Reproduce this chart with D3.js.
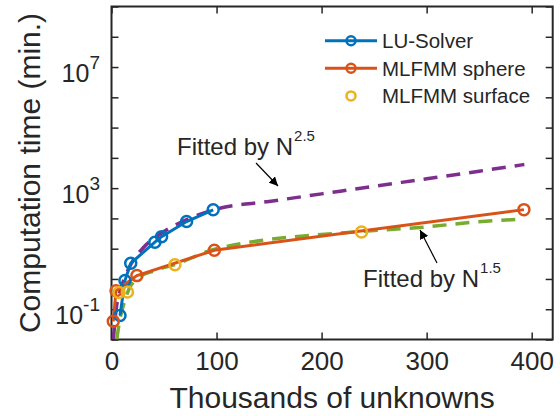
<!DOCTYPE html>
<html>
<head>
<meta charset="utf-8">
<script src="https://cdn.jsdelivr.net/npm/d3@7"></script>
<style>
  body { margin: 0; background: #fff; }
  text { font-family: "Liberation Sans", Arial, sans-serif; fill: #262626; }
</style>
</head>
<body>
<svg id="chart" width="560" height="416"></svg>
<script>
// DATA (x in thousands of unknowns, time in minutes)
const luX = [8.1, 12.8, 18.3, 41.3, 47.7, 71.5, 96.8];
const luT = [0.062, 0.89, 3.3, 16.4, 25, 79, 193];

const sphereX = [1.7, 4.3, 24.2, 97.9, 392.6];
const sphereT = [0.04, 0.41, 1.29, 8.9, 195];

const surfaceX = [7.1, 15.2, 60.4, 238];
const surfaceT = [0.355, 0.37, 2.95, 35.5];

const fit25X = [1.9, 3, 4.9, 8, 12.8, 20, 30, 50, 75, 100, 150, 200, 250, 300, 350, 393];
const fit25T = [0.0105, 0.033, 0.13, 0.38, 1.15, 3.8, 10.5, 37, 102, 204, 363, 646, 1150, 2040, 3630, 6030];

const fit15X = [5, 8.1, 11.2, 17.6, 24, 41.4, 60.4, 100, 238, 293, 347, 391];
const fit15T = [0.01, 0.049, 0.13, 0.54, 1.0, 1.9, 3.0, 10, 37, 50, 76, 95];

const xTicks = [0, 100, 200, 300, 400];
const yLabelExps = [-1, 3, 7];
const yMinorExps = [-2, -1, 0, 1, 2, 3, 4, 5, 6, 7, 8, 9];

const legendNames = ["LU-Solver", "MLFMM sphere", "MLFMM surface"];
const colors = {
  lu: "#0072BD",
  sphere: "#D95319",
  surface: "#EDB120",
  fit25: "#7E2F8E",
  fit15: "#77AC30",
};

// CANVAS SETUP
const svg = d3.select("#chart");
const margin = { top: 6.5, right: 7.3, bottom: 76.5, left: 111.5 },
  width = 560 - margin.left - margin.right,
  height = 416 - margin.top - margin.bottom;

const x = d3.scaleLinear().domain([0, 420]).range([0, width]);
const y = d3.scaleLog().domain([1e-2, 1e9]).range([height, 0]);

const g = svg.append("g").attr("transform", `translate(${margin.left},${margin.top})`);

g.append("defs")
  .append("clipPath")
  .attr("id", "plotClip")
  .append("rect")
  .attr("width", width)
  .attr("height", height);

svg.append("defs")
  .append("marker")
  .attr("id", "arrowHead")
  .attr("viewBox", "0 0 10 10")
  .attr("refX", 10)
  .attr("refY", 5)
  .attr("markerWidth", 9)
  .attr("markerHeight", 9)
  .attr("markerUnits", "userSpaceOnUse")
  .attr("orient", "auto")
  .append("path")
  .attr("d", "M0,0 L10,5 L0,10 Z")
  .attr("fill", "#000");

const zip = (xs, ts) => xs.map((v, i) => ({ x: v, t: ts[i] }));
const lu = zip(luX, luT),
  sphere = zip(sphereX, sphereT),
  surface = zip(surfaceX, surfaceT),
  fit25 = zip(fit25X, fit25T),
  fit15 = zip(fit15X, fit15T);

const line = d3.line().x((d) => x(d.x)).y((d) => y(d.t));
const smooth = d3.line().x((d) => x(d.x)).y((d) => y(d.t)).curve(d3.curveMonotoneX);

// AXES
const tickLen = 7;
const axisColor = "#262626";

const gAxes = g.append("g");
gAxes.append("g")
  .attr("transform", `translate(0,${height})`)
  .call(d3.axisBottom(x).tickValues(xTicks).tickSize(-tickLen).tickFormat(d3.format("d")).tickPadding(12))
  .call((a) => a.select(".domain").remove())
  .call((a) => a.selectAll("line").attr("stroke", axisColor).attr("stroke-width", 1.5))
  .call((a) => a.selectAll("text").attr("font-size", 26).attr("fill", axisColor).attr("dy", "0.72em"));

gAxes.append("g")
  .call(d3.axisTop(x).tickValues(xTicks).tickSize(-tickLen).tickFormat(""))
  .call((a) => a.select(".domain").remove())
  .call((a) => a.selectAll("line").attr("stroke", axisColor).attr("stroke-width", 1.5));

const yTickVals = yMinorExps.map((e) => Math.pow(10, e));
gAxes.append("g")
  .call(d3.axisLeft(y).tickValues(yTickVals).tickSize(-tickLen).tickFormat(""))
  .call((a) => a.select(".domain").remove())
  .call((a) => a.selectAll("line").attr("stroke", axisColor).attr("stroke-width", 1.5));

gAxes.append("g")
  .attr("transform", `translate(${width},0)`)
  .call(d3.axisRight(y).tickValues(yTickVals).tickSize(-tickLen).tickFormat(""))
  .call((a) => a.select(".domain").remove())
  .call((a) => a.selectAll("line").attr("stroke", axisColor).attr("stroke-width", 1.5));

// y tick labels as 10^n
const yLab = g.append("g").selectAll("text")
  .data(yLabelExps)
  .join("text")
  .attr("x", -11.5)
  .attr("y", (d) => y(Math.pow(10, d)) + 14.5)
  .attr("text-anchor", "end")
  .attr("font-size", 25);
yLab.append("tspan").text("10");
yLab.append("tspan")
  .attr("dy", -13)
  .attr("font-size", 19)
  .text((d) => (d < 0 ? "-" + Math.abs(d) : d));

// plot box
g.append("rect")
  .attr("width", width)
  .attr("height", height)
  .attr("fill", "none")
  .attr("stroke", axisColor)
  .attr("stroke-width", 2);

// axis titles
svg.append("text")
  .attr("x", margin.left + width / 2)
  .attr("y", 408)
  .attr("text-anchor", "middle")
  .attr("font-size", 30)
  .text("Thousands of unknowns");

svg.append("text")
  .attr("transform", `translate(40,${margin.top + height / 2}) rotate(-90)`)
  .attr("text-anchor", "middle")
  .attr("font-size", 30)
  .text("Computation time (min.)");

// RENDER DATA
const plot = g.append("g").attr("clip-path", "url(#plotClip)");

plot.append("path")
  .datum(fit25)
  .attr("d", smooth)
  .attr("fill", "none")
  .attr("stroke", colors.fit25)
  .attr("stroke-width", 3.5)
  .attr("stroke-dasharray", "14,9");

plot.append("path")
  .datum(fit15)
  .attr("d", smooth)
  .attr("fill", "none")
  .attr("stroke", colors.fit15)
  .attr("stroke-width", 3.5)
  .attr("stroke-dasharray", "14,9");

plot.append("path")
  .datum(lu)
  .attr("d", line)
  .attr("fill", "none")
  .attr("stroke", colors.lu)
  .attr("stroke-width", 3);

plot.append("path")
  .datum(sphere)
  .attr("d", line)
  .attr("fill", "none")
  .attr("stroke", colors.sphere)
  .attr("stroke-width", 3);

const drawMarkers = (data, color) =>
  g.append("g")
    .selectAll("circle")
    .data(data)
    .join("circle")
    .attr("cx", (d) => x(d.x))
    .attr("cy", (d) => y(d.t))
    .attr("r", 5.5)
    .attr("fill", "none")
    .attr("stroke", color)
    .attr("stroke-width", 2.5);

drawMarkers(lu, colors.lu);
drawMarkers(sphere, colors.sphere);
drawMarkers(surface, colors.surface);

// LEGEND
const legendRows = [
  { name: legendNames[0], color: colors.lu, line: true },
  { name: legendNames[1], color: colors.sphere, line: true },
  { name: legendNames[2], color: colors.surface, line: false },
];
const legend = svg.append("g")
  .selectAll("g")
  .data(legendRows)
  .join("g")
  .attr("transform", (d, i) => `translate(0,${40.7 + i * 27.6})`);

legend.filter((d) => d.line)
  .append("line")
  .attr("x1", 325).attr("x2", 377)
  .attr("stroke", (d) => d.color)
  .attr("stroke-width", 3);
legend.append("circle")
  .attr("cx", 351)
  .attr("r", 4.5)
  .attr("fill", "none")
  .attr("stroke", (d) => d.color)
  .attr("stroke-width", 2.5);
legend.append("text")
  .attr("x", 382)
  .attr("dy", "0.36em")
  .attr("font-size", 20.5)
  .text((d) => d.name);

// ANNOTATIONS
const notes = [
  { x: 177, y: 155, exp: "2.5", from: [256, 163], to: [278, 186] },
  { x: 363, y: 287, exp: "1.5", from: [437, 263], to: [420, 230] },
];
notes.forEach((n) => {
  const t = svg.append("text").attr("x", n.x).attr("y", n.y).attr("font-size", 24);
  t.append("tspan").text("Fitted by N");
  t.append("tspan").attr("dy", -14).attr("dx", 1).attr("font-size", 15).text(n.exp);
  svg.append("line")
    .attr("x1", n.from[0]).attr("y1", n.from[1])
    .attr("x2", n.to[0]).attr("y2", n.to[1])
    .attr("stroke", "#000")
    .attr("stroke-width", 1.2)
    .attr("marker-end", "url(#arrowHead)");
});
</script>
</body>
</html>
